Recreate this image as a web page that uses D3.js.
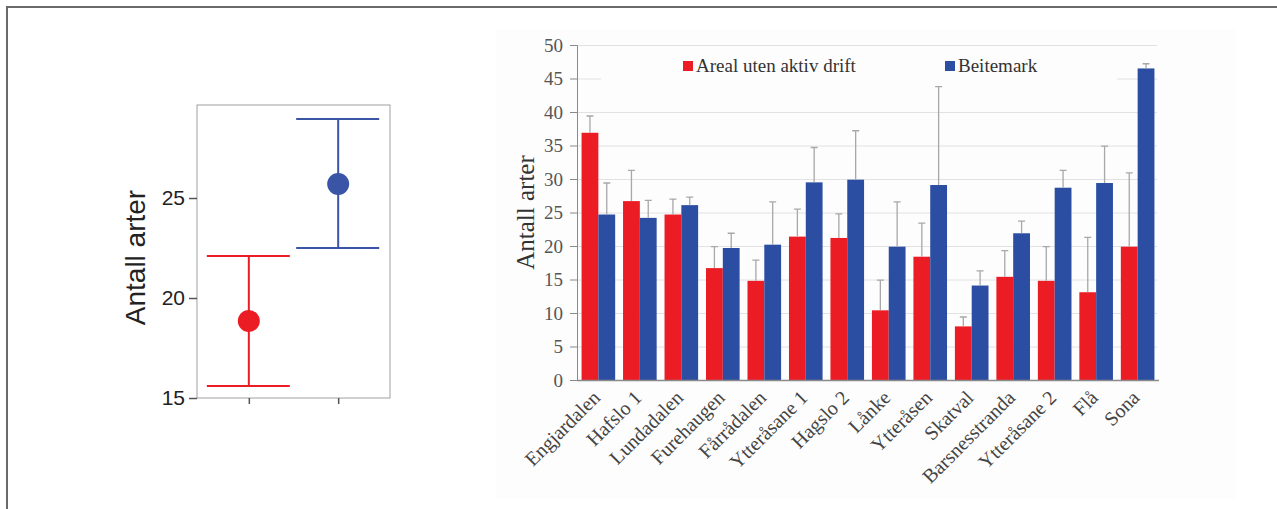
<!DOCTYPE html>
<html>
<head>
<meta charset="utf-8">
<script src="https://cdn.jsdelivr.net/npm/d3@7"></script>
<style>
  body { margin: 0; background: #fff; }
  svg { display: block; }
</style>
</head>
<body>
<div id="chart"></div>
<script>
// left panel: mean with interval
const groups = ["Areal uten aktiv drift", "Beitemark"];
const groupMeans = [18.85, 25.7];
const groupLower = [15.6, 22.5];
const groupUpper = [22.1, 28.95];
const leftTicks = [15, 20, 25];

// right panel: per site
const sites = ["Engjardalen", "Hafslo 1", "Lundadalen", "Furehaugen", "Fårrådalen", "Ytteråsane 1", "Hagslo 2",
  "Lånke", "Ytteråsen", "Skatval", "Barsnesstranda", "Ytteråsane 2", "Flå", "Sona"];
const arealMean = [36.9, 26.7, 24.7, 16.7, 14.8, 21.4, 21.2, 10.4, 18.4, 8.0, 15.4, 14.8, 13.1, 19.9];
const arealUpper = [39.4, 31.3, 27.0, 19.9, 17.9, 25.5, 24.8, 14.9, 23.4, 9.4, 19.3, 19.9, 21.3, 30.9];
const beiteMean = [24.7, 24.2, 26.1, 19.7, 20.2, 29.5, 29.9, 19.9, 29.1, 14.1, 21.9, 28.7, 29.4, 46.5];
const beiteUpper = [29.4, 26.8, 27.3, 21.9, 26.6, 34.7, 37.2, 26.6, 43.8, 16.3, 23.7, 31.3, 34.9, 47.2];
const seriesNames = ["Areal uten aktiv drift", "Beitemark"];
const rightTicks = [0, 5, 10, 15, 20, 25, 30, 35, 40, 45, 50];

const W = 1277, H = 509;
const red = "#ec1c24", blue = "#2b4ea2", leftBlue = "#3b55a6";
const panelBg = "#fdfdfd";

const svg = d3.select("#chart").append("svg")
  .attr("width", W)
  .attr("height", H);

// outer frame
svg.append("rect")
  .attr("x", 7).attr("y", 7)
  .attr("width", W + 20).attr("height", H + 20)
  .attr("fill", "none")
  .attr("stroke", "#6a6a6a")
  .attr("stroke-width", 2);

// ---------- left panel ----------
const lx = d3.scalePoint().domain(groups).range([197, 390]).padding(0.58);
const ly = d3.scaleLinear().domain([15, 29.65]).range([398, 105]);
const leftColors = [red, leftBlue];

const left = svg.append("g");

left.append("rect")
  .attr("x", 197).attr("y", ly(29.65))
  .attr("width", 193).attr("height", ly(15) - ly(29.65))
  .attr("fill", "none")
  .attr("stroke", "#a0a0a0")
  .attr("stroke-width", 1);

const leftAxis = left.append("g")
  .attr("transform", "translate(197,0)")
  .call(d3.axisLeft(ly).tickValues(leftTicks).tickSize(8).tickPadding(4));
leftAxis.select(".domain").remove();
leftAxis.selectAll("line").attr("stroke", "#555").attr("stroke-width", 1.5);
leftAxis.selectAll("text")
  .attr("font-family", "Liberation Sans, Arial, sans-serif")
  .attr("font-size", 21)
  .attr("fill", "#222");

const leftX = left.append("g")
  .attr("transform", "translate(0,398)")
  .call(d3.axisBottom(lx).tickSize(6).tickFormat(""));
leftX.select(".domain").remove();
leftX.selectAll("line").attr("stroke", "#555").attr("stroke-width", 1.5);

left.append("text")
  .attr("transform", `translate(145,${(ly(15) + ly(29.65)) / 2 + 6}) rotate(-90)`)
  .attr("text-anchor", "middle")
  .attr("font-family", "Liberation Sans, Arial, sans-serif")
  .attr("font-size", 28)
  .attr("fill", "#222")
  .text("Antall arter");

groups.forEach((g, i) => {
  const cx = lx(g);
  const gEl = left.append("g").attr("stroke", leftColors[i]).attr("stroke-width", 2);
  gEl.append("line")
    .attr("x1", cx).attr("x2", cx)
    .attr("y1", ly(groupLower[i])).attr("y2", ly(groupUpper[i]));
  [groupLower[i], groupUpper[i]].forEach((v) => {
    gEl.append("line")
      .attr("x1", cx - 42).attr("x2", cx + 41)
      .attr("y1", ly(v)).attr("y2", ly(v));
  });
  left.append("circle")
    .attr("cx", cx).attr("cy", ly(groupMeans[i]))
    .attr("r", 11)
    .attr("fill", leftColors[i]);
});

// ---------- right panel ----------
svg.append("rect")
  .attr("x", 496).attr("y", 29)
  .attr("width", 740).attr("height", 470)
  .attr("fill", panelBg);

const x0 = 577, x1 = 1159;
const x = d3.scaleBand().domain(sites).range([x0, x1]).paddingInner(0.19).paddingOuter(0.11);
const xs = d3.scaleBand().domain(seriesNames).range([0, x.bandwidth()]);
const y = d3.scaleLinear().domain([0, 50]).range([380, 45]);

const right = svg.append("g");

// grid
right.append("g")
  .selectAll("line")
  .data(rightTicks.filter((t) => t > 0))
  .join("line")
  .attr("x1", x0).attr("x2", x1 - 2)
  .attr("y1", (d) => y(d) + 0.5).attr("y2", (d) => y(d) + 0.5)
  .attr("stroke", "#e2e2e2");

// legend background hides part of the grid
right.append("rect")
  .attr("x", 601).attr("y", 52)
  .attr("width", 516).attr("height", 46)
  .attr("fill", panelBg);

const yAxis = right.append("g")
  .attr("transform", `translate(${x0},0)`)
  .call(d3.axisLeft(y).tickValues(rightTicks).tickSize(7).tickPadding(7));
yAxis.select(".domain").attr("stroke", "#8a8a8a");
yAxis.selectAll("line").attr("stroke", "#8a8a8a");
yAxis.selectAll("text")
  .attr("font-family", "Liberation Serif, Times New Roman, serif")
  .attr("font-size", 19)
  .attr("fill", "#555");

const rows = sites.map((s, i) => ({
  site: s,
  vals: [
    { name: seriesNames[0], mean: arealMean[i], upper: arealUpper[i], color: red },
    { name: seriesNames[1], mean: beiteMean[i], upper: beiteUpper[i], color: blue }
  ]
}));

const grp = right.selectAll(".site")
  .data(rows)
  .join("g")
  .attr("class", "site")
  .attr("transform", (d) => `translate(${x(d.site)},0)`);

grp.selectAll("rect")
  .data((d) => d.vals)
  .join("rect")
  .attr("x", (d) => xs(d.name))
  .attr("y", (d) => y(d.mean))
  .attr("width", xs.bandwidth())
  .attr("height", (d) => y(0) - y(d.mean))
  .attr("fill", (d) => d.color);

grp.selectAll(".err")
  .data((d) => d.vals)
  .join("path")
  .attr("class", "err")
  .attr("d", (d) => {
    const cx = xs(d.name) + xs.bandwidth() / 2;
    return `M${cx},${y(d.mean)}V${y(d.upper)}M${cx - 3.5},${y(d.upper)}H${cx + 3.5}`;
  })
  .attr("fill", "none")
  .attr("stroke", "#a8a8a8")
  .attr("stroke-width", 1.3);

// x axis line
right.append("line")
  .attr("x1", x0).attr("x2", x1)
  .attr("y1", y(0) + 0.5).attr("y2", y(0) + 0.5)
  .attr("stroke", "#8a8a8a")
  .attr("stroke-width", 1.5);

right.append("g")
  .selectAll("text")
  .data(sites)
  .join("text")
  .attr("transform", (d) => `translate(${x(d) + x.bandwidth() / 2 + 3},399) rotate(-45)`)
  .attr("text-anchor", "end")
  .attr("font-family", "Liberation Serif, Times New Roman, serif")
  .attr("font-size", 20)
  .attr("fill", "#444")
  .text((d) => d);

right.append("text")
  .attr("transform", `translate(534,${(y(0) + y(50)) / 2}) rotate(-90)`)
  .attr("text-anchor", "middle")
  .attr("font-family", "Liberation Serif, Times New Roman, serif")
  .attr("font-size", 25)
  .attr("fill", "#333")
  .text("Antall  arter");

// legend
const legendX = [683, 945];
const legend = right.selectAll(".legend")
  .data(seriesNames)
  .join("g")
  .attr("class", "legend")
  .attr("transform", (d, i) => `translate(${legendX[i]},61)`);

legend.append("rect")
  .attr("width", 10).attr("height", 10)
  .attr("fill", (d, i) => [red, blue][i]);

legend.append("text")
  .attr("x", 13).attr("y", 11)
  .attr("font-family", "Liberation Serif, Times New Roman, serif")
  .attr("font-size", 19)
  .attr("fill", "#333")
  .text((d) => d);
</script>
</body>
</html>
